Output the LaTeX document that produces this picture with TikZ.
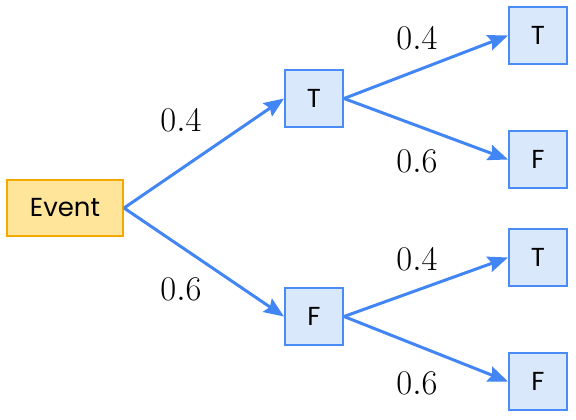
\documentclass[tikz,border=0pt]{standalone}
\usepackage{fontspec}
\newfontfamily\poppins{Poppins}
\usepackage{xcolor}
\definecolor{evfill}{RGB}{255,229,153}
\definecolor{evline}{RGB}{245,168,0}
\definecolor{tfill}{RGB}{218,232,252}
\definecolor{tline}{RGB}{74,140,247}
\definecolor{tarrow}{RGB}{66,133,244}
\usetikzlibrary{arrows.meta,positioning}

\begin{document}
\begin{tikzpicture}[x=0.5pt, y=-0.5pt,
  evbox/.style={draw=evline, fill=evfill, line width=1pt, minimum width=58pt, minimum height=28pt, font=\poppins\fontsize{13}{15}\selectfont},
  tfbox/.style={draw=tline, fill=tfill, line width=1pt, minimum width=29pt, minimum height=28.5pt, font=\poppins\fontsize{13}{15}\selectfont},
  branch/.style={-{Stealth[length=10pt, width=8pt, inset=1.5pt]}, line width=1.5pt, tarrow},
  prob/.style={font=\fontsize{16.5}{18}\selectfont}]
  \useasboundingbox (0,0) rectangle (576,419);

  %% Root
  \node[evbox] (event) at (65,208) {Event};

  %% First level
  \node[tfbox] (t)  at (314,98.5)  {T};
  \node[tfbox] (f)  at (314,316.5) {F};

  %% Second level
  \node[tfbox] (tt) at (538,35.5)  {T};
  \node[tfbox] (tf) at (538,159.5) {F};
  \node[tfbox] (ft) at (538,257.5) {T};
  \node[tfbox] (ff) at (538,381.5) {F};

  %% Branches
  \draw[branch] (event.east) -- (t.west);
  \draw[branch] (event.east) -- (f.west);
  \draw[branch] (t.east) -- (tt.west);
  \draw[branch] (t.east) -- (tf.west);
  \draw[branch] (f.east) -- (ft.west);
  \draw[branch] (f.east) -- (ff.west);

  %% Probabilities
  \node[prob] (pt)  at (181,120) {$0.4$};
  \node[prob] (pf)  at (181,289) {$0.6$};
  \node[prob] (ptt) at (417,38)  {$0.4$};
  \node[prob] (ptf) at (417,161) {$0.6$};
  \node[prob] (pft) at (417,259) {$0.4$};
  \node[prob] (pff) at (417,383) {$0.6$};
\end{tikzpicture}
\end{document}
